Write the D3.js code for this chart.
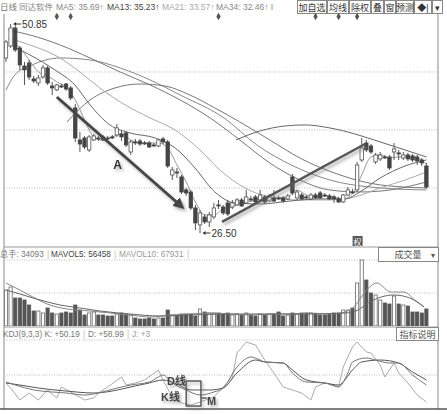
<!DOCTYPE html>
<html>
<head>
<meta charset="utf-8">
<script src="https://d3js.org/d3.v7.min.js"></script>
<style>
  body { margin: 0; background: #fff; }
  text { font-family: "Liberation Sans", "Noto Sans CJK SC", sans-serif; }
</style>
</head>
<body>
<div id="chart"></div>
<script>
// daily bars (index 0 = leftmost bar)
var opens = [46.89,48.29,50.39,48.06,45.96,46.31,44.45,43.98,44.68,45.73,
  43.63,43.17,43.63,43.86,43.40,41.07,37.34,37.57,36.18,37.34,
  37.57,37.69,37.57,37.69,37.92,38.04,38.16,35.94,37.11,37.22,
  36.99,36.99,36.76,36.64,37.46,37.11,33.26,33.61,33.03,31.52,
  31.28,29.42,27.44,28.37,27.79,28.37,29.77,29.53,30.00,29.53,
  29.77,30.35,30.00,30.47,30.70,30.35,30.70,30.23,30.58,30.58,
  30.58,30.47,33.03,30.58,30.93,30.70,30.47,30.93,31.17,30.93,
  30.82,30.70,30.47,30.12,30.93,31.28,31.52,35.01,36.99,36.64,
  34.78,35.13,35.36,35.36,35.94,35.83,35.24,35.59,35.48,35.36,
  35.01,34.31]
var highs = [48.99,50.85,50.62,48.29,46.43,46.66,44.80,44.91,46.08,45.96,
  44.10,43.86,43.86,43.98,43.63,41.53,38.27,37.81,37.92,38.04,
  37.81,37.92,37.81,37.92,39.20,38.39,38.39,37.34,37.46,37.46,
  37.22,37.22,36.99,37.46,37.69,37.34,34.19,34.08,33.26,31.75,
  31.52,29.77,29.18,28.72,28.95,30.00,30.35,29.77,30.35,30.35,
  30.58,30.58,31.52,30.82,30.93,31.52,30.93,31.05,31.52,30.82,
  30.82,31.05,33.38,31.52,31.17,30.93,31.17,31.17,31.40,31.17,
  31.05,30.93,30.70,31.05,31.86,31.63,34.78,37.57,37.34,36.87,
  35.83,35.94,35.59,35.59,36.99,36.18,35.94,35.83,35.71,35.59,
  35.24,34.66]
var lows = [46.43,48.06,47.59,45.50,43.75,44.33,43.98,43.63,44.45,43.75,
  42.58,43.05,43.40,43.05,42.00,37.11,35.94,36.29,35.94,37.22,
  37.22,37.22,37.34,37.46,37.69,37.22,36.52,35.59,36.76,36.64,
  36.76,36.41,36.52,36.52,36.87,34.08,32.68,32.91,31.05,30.82,
  29.18,26.85,26.50,27.55,27.20,28.14,29.30,28.60,28.49,29.30,
  29.65,29.53,29.88,30.12,30.00,30.23,29.88,30.12,30.12,30.35,
  30.00,30.35,30.93,30.35,30.35,30.47,30.35,30.47,30.47,30.70,
  30.35,30.00,30.00,30.00,30.82,31.05,31.28,34.78,35.94,35.71,
  34.54,34.89,35.13,33.85,35.01,35.01,35.01,34.89,34.78,34.43,
  34.31,31.63]
var closes = [48.76,50.39,47.83,46.08,45.50,44.68,44.21,44.56,45.73,43.98,
  43.40,43.75,43.51,43.28,42.23,37.57,36.87,36.52,37.69,37.81,
  37.46,37.34,37.52,37.66,38.74,37.69,36.76,37.11,36.99,36.87,
  36.93,36.52,36.70,37.34,37.11,34.31,33.85,33.55,31.28,31.16,
  29.42,27.67,28.84,27.79,28.60,29.42,29.71,28.84,28.72,30.00,
  30.35,29.65,30.70,30.41,30.12,30.93,30.12,30.82,30.23,30.52,
  30.23,30.82,31.16,31.28,30.47,30.64,30.93,30.58,30.58,30.87,
  30.47,30.47,30.12,30.93,31.52,31.22,34.43,36.41,36.18,35.94,
  35.59,35.59,35.30,34.08,36.29,35.77,35.59,35.13,35.01,34.89,
  34.66,31.86]
var volumes = [72000,78000,56000,56000,52000,42000,30000,30000,26000,36000,
  26000,24000,26000,28000,26000,42000,32000,22000,26000,28000,
  22000,22000,20000,20000,24000,26000,24000,22000,16000,14000,
  14000,16000,14000,16000,16000,32000,22000,20000,24000,24000,
  24000,20000,34000,28000,26000,26000,26000,24000,26000,22000,
  24000,22000,26000,22000,20000,24000,22000,24000,24000,28000,
  20000,22000,26000,24000,26000,26000,26000,24000,22000,22000,
  24000,26000,26000,32000,32000,36000,86000,132000,92000,66000,
  62000,52000,46000,44000,60000,44000,42000,40000,28000,28000,
  26000,34093]

// moving average curves, read as [bar index, price]
var ma5 = [[1,48.99],[3,48.06],[5,46.66],[7,45.26],[9,44.80],[11,44.10],[13,43.51],[15,42.00],
  [17,39.67],[19,37.69],[21,37.34],[23,37.69],[25,38.04],[27,37.34],[29,36.99],[31,36.99],
  [33,36.99],[35,36.41],[37,34.43],[39,32.45],[41,30.12],[43,28.60],[45,28.60],[47,29.30],
  [49,29.53],[51,30.00],[53,30.23],[55,30.47],[57,30.47],[59,30.58],[61,30.70],[63,31.51],
  [65,30.93],[67,30.70],[69,30.82],[71,30.70],[73,30.47],[75,31.05],[77,33.26],[79,35.36],
  [81,35.59],[83,35.24],[85,35.36],[87,35.36],[89,35.24],[91,34.54]]
var ma13 = [[0.9,48.41],[5.2,47.24],[10.6,45.50],[14.9,43.75],[18.2,41.42],[22.5,39.09],
  [26.8,38.16],[32.3,37.57],[36.6,36.41],[40.9,34.08],[45.2,31.28],[49.6,30.00],[55,29.88],
  [61.5,30.23],[68,30.47],[73.4,30.47],[76.6,31.28],[81,32.91],[86.4,34.31],[91,35.01]]
var ma21 = [[0.4,49.22],[5.2,48.41],[11.7,46.89],[16,45.26],[20.3,43.40],[25.8,41.42],
  [31.2,39.90],[36.6,38.50],[42,36.17],[46.3,33.84],[51.7,31.75],[57.1,30.70],[63.6,30.35],
  [70.1,30.35],[75.5,30.70],[81,31.75],[86.4,32.68],[91,33.61]]
var ma34 = [[0.4,50.16],[5.2,49.57],[11.7,48.41],[18.2,46.89],[24.7,45.26],[31.2,43.75],
  [37.7,42.00],[44.2,39.90],[50.6,37.34],[57.1,34.66],[63.6,32.68],[70.1,31.51],[76.6,31.28],
  [83.1,31.51],[91,32.45]]
var maLong1 = [[0,43.16],[1.9,44.91],[5.2,45.96],[11.7,46.89],[18.2,46.66],[24.7,45.73],
  [31.2,44.33],[37.7,42.58],[47.2,39.90],[54.3,36.76],[61.7,34.43],[70.1,32.68],[81,31.75],[91,31.51]]
var maLong2 = [[13.2,39.44],[18.2,42.00],[23.6,43.40],[29,43.86],[34.4,43.63],[39.8,42.58],
  [45.2,41.07],[50.6,39.44],[57.1,37.34],[63.6,35.24],[72.3,33.26],[81,32.10],[91,31.75]]
var maLong3 = [[49.8,37.34],[55,38.39],[60.4,38.97],[64.7,39.09],[70.1,38.74],[75.5,38.04],
  [81,37.11],[86.4,36.17],[91,35.36]]

// volume averages
var mavol5 = [[0,86000],[3,72000],[5.8,58000],[8.9,44000],[13.2,34000],[18.2,30000],[22.5,26000],
  [26.8,22000],[31.2,18000],[35.5,22000],[39.8,24000],[44.2,26000],[48.5,24000],[52.8,22000],
  [57.1,24000],[61.5,24000],[65.8,26000],[70.1,24000],[73.4,28000],[75.5,40000],[77.7,68000],
  [80.3,86000],[83.3,68000],[86.1,68000],[88.5,52000],[90.5,38000]]
var mavol10 = [[0,72000],[3,64000],[7.4,52000],[11.7,42000],[16,36000],[20.4,30000],[26.8,24000],
  [33.3,20000],[39.8,22000],[48.5,24000],[57.1,24000],[65.8,24000],[73.4,26000],[76.2,32000],
  [78.4,46000],[81.2,58000],[84,62000],[87.4,56000],[90.5,38000]]

// KDJ(9,3,3)
var kLine = [[0,40],[2,35.7],[6,28.6],[10,25.7],[13,24.3],[17,21.4],[20,24.3],[24,31.4],[27,35.7],
  [31,40],[33,47.1],[34,50],[36,38.6],[39,28.6],[42,21.4],[45,25.7],[47,31.4],[50,61.4],[53,75.7],
  [55,71.4],[56,68.6],[60,67.1],[62,52.9],[65,40],[69,38.6],[72,32.9],[74,52.9],[75,68.6],
  [78,74.3],[80,71.4],[83,67.1],[85,67.1],[88,50],[91,35.7]]
var dLine = [[0,38.6],[3,35.7],[7,31.4],[13,27.1],[19,24.3],[23,27.1],[27,32.9],[31,38.6],[34,42.9],
  [37,37.1],[40,28.6],[44,28.6],[47,31.4],[50,52.9],[54,71.4],[56,68.6],[60,67.1],[62,57.1],
  [65,42.9],[69,38.6],[72,35.7],[75,57.1],[77,68.6],[81,71.4],[85,67.1],[88,54.3],[91,42.9]]
var jLine = [[0,38.6],[1,31.4],[3,14.3],[5,24.3],[7,14.3],[9,28.6],[11,17.1],[12,32.9],[14,25.7],
  [17,14.3],[19,17.1],[20,24.3],[22,32.9],[25,47.1],[26,35.7],[28,38.6],[30,42.9],[33,57.1],
  [34,42.9],[36,18.6],[38,10],[40,7.1],[42,11.4],[45,18.6],[47,32.9],[49,47.1],[50,81.4],
  [52,97.1],[54,92.9],[56,71.4],[58,52.9],[60,32.9],[64,24.3],[66,14.3],[67,32.9],[69,38.6],
  [71,35.7],[72,32.9],[73,61.4],[75,90],[76,97.1],[78,82.9],[79,81.4],[81,64.3],[82,47.1],
  [84,67.1],[85,52.9],[87,38.6],[89,21.4],[91,11.4]]

var priceGrid = [45.26, 38.50, 31.75]
var volGrid = [132000, 66000]
var kdjGrid = [100, 50]
var infoMarks = [11, 14, 46, 67, 72, 76]
var exRightsBar = 76
var hiBar = 1, loBar = 42

// ---- layout ----
var width = 447, height = 414
var left = 4, right = 438

var svg = d3.select("#chart").append("svg")
    .attr("width", width)
    .attr("height", height)

var x = d3.scaleLinear().domain([0, 91]).range([6, 426.4])
var yPrice = d3.scaleLinear().domain([26.5, 50.85]).range([233, 24])
var yVol = d3.scaleLinear().domain([0, 132000]).range([326, 260])
var yKdj = d3.scaleLinear().domain([0, 100]).range([410, 340])

var defs = svg.append("defs")
var sh = defs.append("filter").attr("id", "shadow")
    .attr("x", "-30%").attr("y", "-30%").attr("width", "160%").attr("height", "160%")
sh.append("feDropShadow").attr("dx", 2).attr("dy", 2.5).attr("stdDeviation", 1.6)
    .attr("flood-color", "#777").attr("flood-opacity", 0.6)
defs.append("marker").attr("id", "head")
    .attr("viewBox", "0 0 10 10").attr("refX", 6).attr("refY", 5)
    .attr("markerWidth", 4).attr("markerHeight", 4).attr("orient", "auto")
  .append("path").attr("d", "M0,0L10,5L0,10z").attr("fill", "#444")

function clip(id, y0, y1) {
    defs.append("clipPath").attr("id", id)
      .append("rect").attr("x", left).attr("y", y0).attr("width", right - left).attr("height", y1 - y0)
    return "url(#" + id + ")"
}
var clipMain = clip("cm", 14, 246)
var clipVol = clip("cv", 248, 326)
var clipKdj = clip("ck", 341, 408)

// frame and separators
svg.append("line").attr("x1", left).attr("x2", left).attr("y1", 14).attr("y2", 409)
    .attr("stroke", "#888")
svg.append("line").attr("x1", right).attr("x2", right).attr("y1", 13).attr("y2", 409)
    .attr("stroke", "#888")
svg.append("line").attr("x1", left).attr("x2", right).attr("y1", 247).attr("y2", 247)
    .attr("stroke", "#999")
svg.append("line").attr("x1", left).attr("x2", right).attr("y1", 327).attr("y2", 327)
    .attr("stroke", "#999")
svg.append("line").attr("x1", 0).attr("x2", width).attr("y1", 409).attr("y2", 409)
    .attr("stroke", "#555").attr("stroke-width", 1.5)

function grid(vals, scale) {
    svg.selectAll(null).data(vals).enter().append("line")
        .attr("x1", left).attr("x2", right)
        .attr("y1", function(d) { return scale(d) }).attr("y2", function(d) { return scale(d) })
        .attr("stroke", "#bbb").attr("stroke-dasharray", "1,1.5")
}
grid(priceGrid, yPrice)
grid(volGrid, yVol)
grid(kdjGrid, yKdj)

// ---- header row ----
var header = svg.append("g").attr("font-size", 8.5)
var headItems = [
    {t: "日线", x: 0, c: "#777"},
    {t: "同达软件", x: 19, c: "#888"},
    {t: "MA5: 35.69↑", x: 56, c: "#888"},
    {t: "MA13: 35.23↑", x: 107, c: "#444"},
    {t: "MA21: 33.57↑", x: 162, c: "#aaa"},
    {t: "MA34: 32.46↑  I", x: 216, c: "#888"}
]
header.selectAll(null).data(headItems).enter().append("text")
    .attr("x", function(d) { return d.x }).attr("y", 10)
    .attr("fill", function(d) { return d.c }).text(function(d) { return d.t })

var buttons = [
    {t: "加自选", x: 297, w: 30}, {t: "均线", x: 327, w: 22}, {t: "除权", x: 349, w: 22},
    {t: "叠", x: 371, w: 13}, {t: "窗", x: 384, w: 12}, {t: "预测", x: 396, w: 18},
    {t: "◆|", x: 414, w: 18}, {t: "▾", x: 432, w: 11}
]
var btn = svg.selectAll(null).data(buttons).enter().append("g")
btn.append("rect").attr("x", function(d) { return d.x + 0.5 }).attr("y", 0.5)
    .attr("width", function(d) { return d.w - 1 }).attr("height", 13)
    .attr("fill", "#fff").attr("stroke", "#888")
btn.append("text").attr("x", function(d) { return d.x + d.w / 2 }).attr("y", 10.5)
    .attr("text-anchor", "middle").attr("font-size", 9).attr("fill", "#333")
    .text(function(d) { return d.t })

svg.selectAll(null).data(infoMarks).enter().append("path")
    .attr("d", d3.symbol(d3.symbolDiamond, 16))
    .attr("transform", function(d) { return "translate(" + x(d) + ",16.5)" })
    .attr("fill", "#555")

// ---- price panel ----
var line = d3.line().curve(d3.curveMonotoneX)
    .x(function(d) { return x(d[0]) })
var priceLine = line.y(function(d) { return yPrice(d[1]) })
var maSets = [
    {d: maLong1, c: "#888"}, {d: maLong2, c: "#777"}, {d: maLong3, c: "#666"},
    {d: ma34, c: "#777"}, {d: ma21, c: "#aaa"}, {d: ma13, c: "#666"}, {d: ma5, c: "#999"}
]
var gMain = svg.append("g").attr("clip-path", clipMain)
gMain.selectAll(null).data(maSets).enter().append("path")
    .attr("d", function(d) { return priceLine(d.d) })
    .attr("fill", "none").attr("stroke", function(d) { return d.c }).attr("stroke-width", 1)

var idx = d3.range(opens.length)
var bw = 3.4
gMain.selectAll(null).data(idx).enter().append("line")
    .attr("x1", function(i) { return x(i) }).attr("x2", function(i) { return x(i) })
    .attr("y1", function(i) { return yPrice(highs[i]) }).attr("y2", function(i) { return yPrice(lows[i]) })
    .attr("stroke", "#555")
gMain.selectAll(null).data(idx).enter().append("rect")
    .attr("x", function(i) { return x(i) - bw / 2 })
    .attr("y", function(i) { return yPrice(Math.max(opens[i], closes[i])) })
    .attr("width", bw)
    .attr("height", function(i) { return Math.max(1, Math.abs(yPrice(opens[i]) - yPrice(closes[i]))) })
    .attr("fill", function(i) { return closes[i] >= opens[i] ? "#fff" : "#444" })
    .attr("stroke", function(i) { return closes[i] >= opens[i] ? "#555" : "#444" })
    .attr("stroke-width", 0.8)

// high / low labels
function extLabel(i, v) {
    var px = x(i) + 2.5, py = yPrice(v)
    svg.append("line").attr("x1", px + 2).attr("x2", px + 8).attr("y1", py).attr("y2", py)
        .attr("stroke", "#333").attr("stroke-width", 1)
    svg.append("path").attr("d", "M" + px + "," + py + "l3,-2l0,4z").attr("fill", "#333")
    svg.append("text").attr("x", px + 9).attr("y", py + 3.5).attr("font-size", 10)
        .attr("fill", "#333").text(v.toFixed(2))
}
extLabel(hiBar, highs[hiBar])
extLabel(loBar, lows[loBar])

// ex-rights marker
svg.append("rect").attr("x", x(exRightsBar) - 4.5).attr("y", 236).attr("width", 10).attr("height", 10)
    .attr("fill", "#555")
svg.append("text").attr("x", x(exRightsBar) + 0.5).attr("y", 244.5).attr("text-anchor", "middle")
    .attr("font-size", 8).attr("fill", "#fff").text("权")

// annotations: falling arrow A and rising line
var arrowA = [[11.0, 42.35], [37.9, 29.65]]
var riseLine = [[46.75, 27.79], [77.7, 36.87]]
svg.append("line")
    .attr("x1", x(arrowA[0][0])).attr("y1", yPrice(arrowA[0][1]))
    .attr("x2", x(arrowA[1][0])).attr("y2", yPrice(arrowA[1][1]))
    .attr("stroke", "#444").attr("stroke-width", 2.8).attr("marker-end", "url(#head)")
    .attr("filter", "url(#shadow)")
svg.append("text").attr("x", x(23.2)).attr("y", yPrice(33.9)).attr("font-size", 12)
    .attr("font-weight", "bold").attr("fill", "#333").attr("filter", "url(#shadow)").text("A")
svg.append("line")
    .attr("x1", x(riseLine[0][0])).attr("y1", yPrice(riseLine[0][1]))
    .attr("x2", x(riseLine[1][0])).attr("y2", yPrice(riseLine[1][1]))
    .attr("stroke", "#555").attr("stroke-width", 2.4).attr("filter", "url(#shadow)")

// ---- volume panel ----
var vh = svg.append("g").attr("font-size", 8.2)
var volHead = [
    {t: "总手: 34093", x: 0, c: "#777"}, {t: "|", x: 47, c: "#bbb"},
    {t: "MAVOL5: 56458", x: 51, c: "#444"}, {t: "|", x: 114, c: "#bbb"},
    {t: "MAVOL10: 67931", x: 119, c: "#999"}, {t: "|", x: 187, c: "#bbb"}
]
vh.selectAll(null).data(volHead).enter().append("text")
    .attr("x", function(d) { return d.x }).attr("y", 257)
    .attr("fill", function(d) { return d.c }).text(function(d) { return d.t })
svg.append("rect").attr("x", 378.5).attr("y", 247.5).attr("width", 60).attr("height", 14)
    .attr("fill", "#fff").attr("stroke", "#888")
svg.append("text").attr("x", 408).attr("y", 258).attr("text-anchor", "middle").attr("font-size", 9)
    .attr("fill", "#555").text("成交量")
svg.append("text").attr("x", 433).attr("y", 258).attr("text-anchor", "middle").attr("font-size", 8)
    .attr("fill", "#555").text("▾")

var gVol = svg.append("g").attr("clip-path", clipVol)
var vbw = 3.2
gVol.selectAll(null).data(idx).enter().append("rect")
    .attr("x", function(i) { return x(i) - vbw / 2 })
    .attr("y", function(i) { return yVol(volumes[i]) })
    .attr("width", vbw)
    .attr("height", function(i) { return yVol(0) - yVol(volumes[i]) })
    .attr("fill", function(i) { return closes[i] >= opens[i] ? "#fff" : "#555" })
    .attr("stroke", function(i) { return closes[i] >= opens[i] ? "#666" : "#555" })
    .attr("stroke-width", 0.8)
var volLine = d3.line().curve(d3.curveMonotoneX)
    .x(function(d) { return x(d[0]) }).y(function(d) { return yVol(d[1]) })
gVol.selectAll(null).data([{d: mavol5, c: "#888"}, {d: mavol10, c: "#666"}]).enter().append("path")
    .attr("d", function(d) { return volLine(d.d) })
    .attr("fill", "none").attr("stroke", function(d) { return d.c })

// ---- KDJ panel ----
var kh = svg.append("g").attr("font-size", 8.2)
var kdjHead = [
    {t: "KDJ(9,3,3) K: +50.19", x: 3, c: "#777"}, {t: "|", x: 83, c: "#bbb"},
    {t: "D: +58.99", x: 88, c: "#777"}, {t: "|", x: 127, c: "#bbb"},
    {t: "J: +3", x: 132, c: "#999"}
]
kh.selectAll(null).data(kdjHead).enter().append("text")
    .attr("x", function(d) { return d.x }).attr("y", 337)
    .attr("fill", function(d) { return d.c }).text(function(d) { return d.t })
svg.append("rect").attr("x", 396.5).attr("y", 327.5).attr("width", 42).attr("height", 13)
    .attr("fill", "#fff").attr("stroke", "#888")
svg.append("text").attr("x", 417.5).attr("y", 337.5).attr("text-anchor", "middle").attr("font-size", 9)
    .attr("fill", "#555").text("指标说明")

var gKdj = svg.append("g").attr("clip-path", clipKdj)
var kdjSmooth = d3.line().curve(d3.curveMonotoneX)
    .x(function(d) { return x(d[0]) }).y(function(d) { return yKdj(d[1]) })
var kdjPoly = d3.line()
    .x(function(d) { return x(d[0]) }).y(function(d) { return yKdj(d[1]) })
gKdj.append("path").attr("d", kdjPoly(jLine)).attr("fill", "none").attr("stroke", "#aaa")
gKdj.append("path").attr("d", kdjSmooth(dLine)).attr("fill", "none").attr("stroke", "#555")
gKdj.append("path").attr("d", kdjSmooth(kLine)).attr("fill", "none").attr("stroke", "#777")

// K / D callouts around the J trough
var box = [[39.0, 41.4], [42.2, 5.7]]
svg.append("rect")
    .attr("x", x(box[0][0])).attr("y", yKdj(box[0][1]))
    .attr("width", x(box[1][0]) - x(box[0][0])).attr("height", yKdj(box[1][1]) - yKdj(box[0][1]))
    .attr("fill", "none").attr("stroke", "#444").attr("stroke-width", 1.3).attr("filter", "url(#shadow)")
svg.append("line").attr("x1", x(box[1][0])).attr("x2", x(box[1][0]) + 6)
    .attr("y1", 398).attr("y2", 398).attr("stroke", "#444").attr("stroke-width", 1.2)
var callouts = [{t: "D线", x: 167, y: 385}, {t: "K线", x: 161, y: 401}, {t: "M", x: 207, y: 405}]
svg.selectAll(null).data(callouts).enter().append("text")
    .attr("x", function(d) { return d.x }).attr("y", function(d) { return d.y })
    .attr("font-size", 11).attr("font-weight", "bold").attr("fill", "#444")
    .attr("filter", "url(#shadow)")
    .text(function(d) { return d.t })
</script>
</body>
</html>
